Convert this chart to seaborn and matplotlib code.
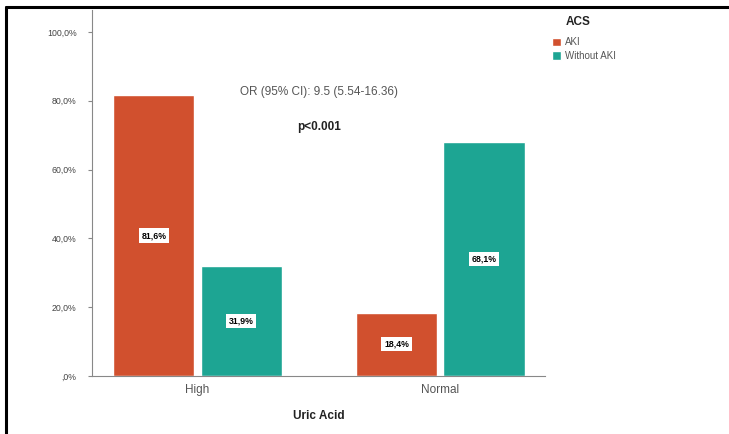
import matplotlib
matplotlib.use("Agg")
import matplotlib.pyplot as plt
import seaborn as sns
import pandas as pd
from matplotlib.lines import Line2D

categories = ["High", "Normal"]
groups = ["AKI", "Without AKI"]
aki_values = [81.6, 18.4]
without_values = [31.9, 68.1]
bar_labels_aki = ["81,6%", "18,4%"]
bar_labels_without = ["31,9%", "68,1%"]
ytick_vals = [0, 20, 40, 60, 80, 100]
ytick_labels = [",0%", "20,0%", "40,0%", "60,0%", "80,0%", "100,0%"]

df = pd.DataFrame({
    "Uric Acid": categories * 2,
    "ACS": [groups[0]] * 2 + [groups[1]] * 2,
    "pct": aki_values + without_values,
    "label": bar_labels_aki + bar_labels_without,
})

sns.set_style("white")
plt.rcParams["font.family"] = ["Liberation Sans", "DejaVu Sans"]

fig = plt.figure(figsize=(7.29, 4.34), dpi=100)
ax = fig.add_axes([0.126, 0.134, 0.622, 0.843])
palette = {"AKI": "#D1502E", "Without AKI": "#1DA593"}
sns.barplot(data=df, x="Uric Acid", y="pct", hue="ACS", order=categories,
            hue_order=groups, palette=palette, width=0.72, gap=0.07,
            saturation=1, ax=ax, errorbar=None)

for cont, labs in zip(ax.containers, [bar_labels_aki, bar_labels_without]):
    for bar, lab in zip(cont, labs):
        ax.text(bar.get_x() + bar.get_width() / 2, bar.get_height() / 2, lab,
                ha="center", va="center", fontsize=6.3, fontweight="bold",
                color="black",
                bbox=dict(boxstyle="square,pad=0.3", fc="white", ec="none"))

ax.set_ylim(0, 106.4)
ax.set_xlim(-0.435, 1.433)
ax.set_yticks(ytick_vals)
ax.set_yticklabels(ytick_labels, fontsize=6.3, color="#444444")
ax.tick_params(axis="x", labelsize=8.5, colors="#555555", length=0, pad=6)
ax.tick_params(axis="y", length=3, color="#888888", left=True, pad=8)
for s in ["top", "right"]:
    ax.spines[s].set_visible(False)
for s in ["left", "bottom"]:
    ax.spines[s].set_color("#888888")
    ax.spines[s].set_linewidth(0.8)
ax.set_ylabel("")
ax.set_xlabel("Uric Acid", fontsize=8.5, fontweight="bold", color="#222222", labelpad=10)

ax.text(0.5, 82.5, "OR (95% CI): 9.5 (5.54-16.36)", ha="center", va="center",
        fontsize=8.5, color="#555555")
ax.text(0.5, 72.5, "p<0.001", ha="center", va="center", fontsize=8.5,
        fontweight="bold", color="#222222")

leg = ax.legend(loc="upper left", bbox_to_anchor=(1.015, 0.925),
                frameon=False, fontsize=7,
                handlelength=0.95, handleheight=0.95, handletextpad=0.4,
                labelspacing=0.35, borderaxespad=0, borderpad=0)
for t in leg.get_texts():
    t.set_color("#555555")
fig.text(578 / 729, 1 - 22 / 434, "ACS", ha="center", va="center",
         fontsize=8.5, fontweight="bold", color="#222222")

fig.add_artist(Line2D([6 / 729, 1.0], [1 - 6.5 / 434, 1 - 6.5 / 434],
                      transform=fig.transFigure, color="black", lw=2.2))
fig.add_artist(Line2D([6 / 729, 6 / 729], [0, 1 - 6.5 / 434],
                      transform=fig.transFigure, color="black", lw=2.2))

fig.savefig("out.png", dpi=100)
